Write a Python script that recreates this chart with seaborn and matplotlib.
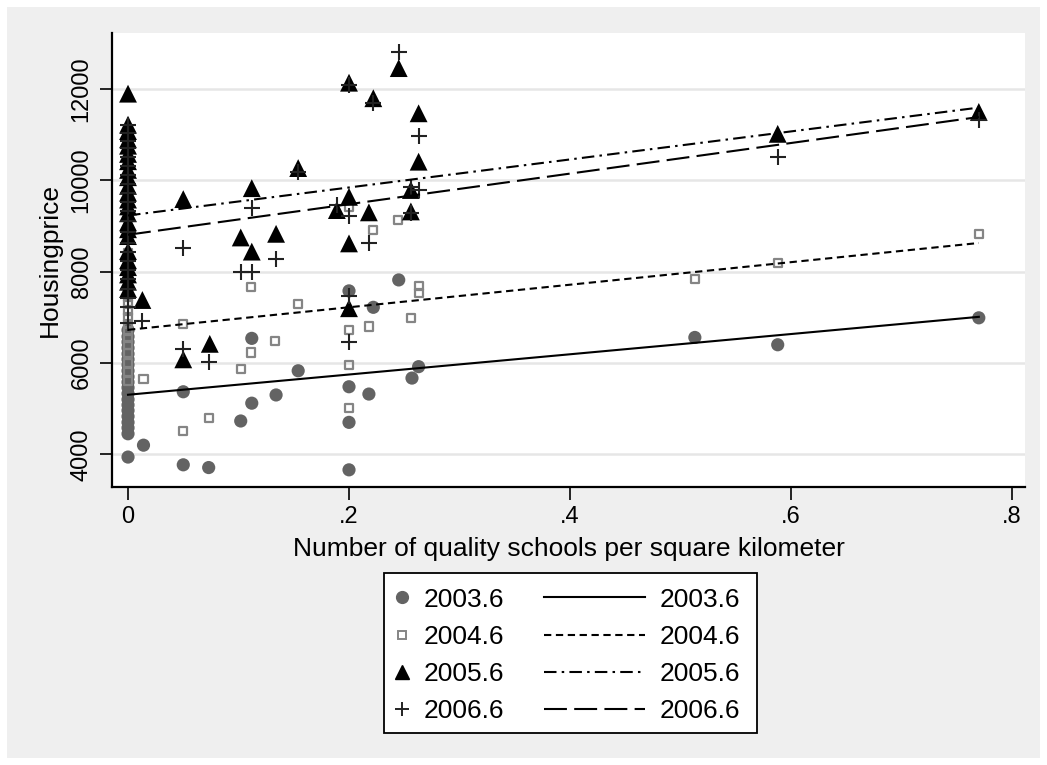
import pandas as pd
import seaborn as sns
import matplotlib.pyplot as plt
from matplotlib.patches import Rectangle
from matplotlib.lines import Line2D

years = ["2003.6", "2004.6", "2005.6", "2006.6"]

# 2003.6 (circles)
x_2003 = [0, 0, 0, 0, 0, 0, 0, 0, 0, 0, 0, 0, 0, 0, 0, 0, 0, 0, 0, 0,
          0.014, 0.050, 0.050, 0.073, 0.102, 0.112, 0.112, 0.134, 0.154, 0.200,
          0.200, 0.200, 0.200, 0.218, 0.222, 0.245, 0.257, 0.263, 0.513, 0.588, 0.770]
y_2003 = [3940, 4450, 4580, 4700, 4830, 4960, 5080, 5200, 5330, 5460,
          5580, 5700, 5830, 5960, 6080, 6200, 6330, 6460, 6580, 6720,
          4200, 5370, 3770, 3710, 4730, 6540, 5120, 5300, 5830, 7580,
          5480, 4700, 3660, 5320, 7220, 7820, 5670, 5920, 6560, 6400, 6990]

# 2004.6 (hollow squares)
x_2004 = [0, 0, 0, 0, 0, 0, 0, 0, 0, 0, 0, 0, 0, 0, 0, 0, 0, 0,
          0.014, 0.050, 0.050, 0.073, 0.102, 0.111, 0.111, 0.133, 0.154, 0.200, 0.200,
          0.200, 0.200, 0.218, 0.222, 0.244, 0.256, 0.263, 0.263, 0.513, 0.588, 0.770]
y_2004 = [5600, 5800, 6000, 6220, 6400, 6550, 6700, 6850, 7000, 7150,
          7300, 7450, 7600, 7750, 7900, 8050, 8200, 8400,
          5640, 6850, 4520, 4790, 5860, 7660, 6230, 6480, 7290, 9420, 6720,
          5960, 5010, 6800, 8910, 9130, 6990, 7690, 7530, 7840, 8200, 8830]

# 2005.6 (triangles)
x_2005 = [0, 0, 0, 0, 0, 0, 0, 0, 0, 0, 0, 0, 0, 0, 0, 0, 0, 0, 0, 0, 0, 0, 0,
          0.013, 0.050, 0.050, 0.074, 0.102, 0.112, 0.112, 0.134, 0.154, 0.189, 0.200,
          0.200, 0.200, 0.200, 0.218, 0.222, 0.245, 0.256, 0.256, 0.263, 0.263, 0.588, 0.770]
y_2005 = [7620, 7780, 7940, 8100, 8250, 8450, 8780, 8930, 9080, 9280,
          9430, 9580, 9730, 9880, 10070, 10230, 10420, 10580, 10760, 10900,
          11080, 11220, 11900,
          7380, 9590, 6080, 6420, 8750, 9830, 8440, 8830, 10270, 9350, 12140,
          9640, 8620, 7200, 9300, 11800, 12460, 9790, 9320, 11470, 10410, 11020, 11500]

# 2006.6 (plus signs)
x_2006 = [0, 0, 0, 0, 0, 0, 0, 0, 0, 0, 0, 0, 0, 0, 0, 0, 0, 0, 0, 0, 0, 0,
          0.013, 0.050, 0.050, 0.073, 0.102, 0.112, 0.112, 0.134, 0.154, 0.189, 0.200,
          0.200, 0.200, 0.200, 0.218, 0.222, 0.245, 0.256, 0.256, 0.263, 0.263, 0.588, 0.770]
y_2006 = [6870, 7220, 7430, 7630, 7830, 8030, 8230, 8430, 8630, 8870,
          9120, 9320, 9520, 9720, 9920, 10120, 10320, 10520, 10700, 10860,
          11040, 11220,
          6910, 8530, 6300, 6030, 7990, 9390, 7990, 8270, 10190, 9460, 12090,
          9210, 7470, 6470, 8630, 11690, 12820, 9860, 9280, 10980, 9790, 10510, 11320]

xs = [x_2003, x_2004, x_2005, x_2006]
ys = [y_2003, y_2004, y_2005, y_2006]

x_ticks = [0, 0.2, 0.4, 0.6, 0.8]
x_tick_labels = ["0", ".2", ".4", ".6", ".8"]
y_ticks = [4000, 6000, 8000, 10000, 12000]

# marker / line styling per year
marker_kw = [
    dict(marker="o", s=90, color="#636363", edgecolor="none"),
    dict(marker="s", s=34, facecolor="none", edgecolor="#858585", linewidth=1.6),
    dict(marker="^", s=165, color="black", edgecolor="none"),
    dict(marker="+", s=125, color="#222222", linewidth=1.5),
]
line_styles = ["-", (0, (3.5, 2.2)), (0, (6, 2.5, 1.2, 2.5)), (0, (11, 3.5))]

plt.rcParams["font.family"] = ["Liberation Sans", "DejaVu Sans"]

fig = plt.figure(figsize=(10.47, 7.65), dpi=100, facecolor="white")
fig.patches.append(Rectangle((7 / 1047, 1 - 758 / 765), 1033 / 1047, 751 / 765,
                             transform=fig.transFigure, facecolor="#efefef",
                             edgecolor="none", zorder=-2))
ax = fig.add_axes([112 / 1047, 1 - 487 / 765, 913 / 1047, 454 / 765])
ax.set_zorder(1)
ax.set_facecolor("white")

for y in y_ticks:
    ax.axhline(y, color="#e6e6e6", linewidth=1.8, zorder=0)

for i in range(4):
    df = pd.DataFrame({"x": xs[i], "y": ys[i]})
    sns.scatterplot(data=df, x="x", y="y", ax=ax, zorder=3, **marker_kw[i])

for i in range(4):
    df = pd.DataFrame({"x": xs[i], "y": ys[i]})
    sns.regplot(data=df, x="x", y="y", ax=ax, scatter=False, ci=None,
                line_kws=dict(color="black", linewidth=1.5, linestyle=line_styles[i], zorder=4))

ax.set_xlim(-0.0145, 0.8118)
ax.set_ylim(3284, 13229)
ax.set_xticks(x_ticks)
ax.set_xticklabels(x_tick_labels)
ax.set_yticks(y_ticks)
ax.set_yticklabels([str(v) for v in y_ticks], rotation=90, va="center")
ax.tick_params(axis="both", length=9, width=1.2, labelsize=17, color="black", pad=5)
for side in ["top", "right"]:
    ax.spines[side].set_visible(False)
for side in ["left", "bottom"]:
    ax.spines[side].set_linewidth(1.6)
ax.set_xlabel("Number of quality schools per square kilometer", fontsize=19, labelpad=6)
ax.set_ylabel("Housingprice", fontsize=19, labelpad=6)

# legend box and two columns
fig.patches.append(Rectangle((384 / 1047, 1 - 733 / 765), 373 / 1047, 160 / 765,
                             transform=fig.transFigure, facecolor="white",
                             edgecolor="black", linewidth=1.3, zorder=-1))
mk_handles = [
    Line2D([], [], linestyle="none", marker="o", markersize=8.5, color="#636363"),
    Line2D([], [], linestyle="none", marker="s", markersize=5.5, markerfacecolor="none",
           markeredgecolor="#858585", markeredgewidth=1.4),
    Line2D([], [], linestyle="none", marker="^", markersize=10, color="black"),
    Line2D([], [], linestyle="none", marker="+", markersize=10, color="#222222",
           markeredgewidth=1.4),
]
ln_handles = [Line2D([], [], color="black", linewidth=1.5, linestyle=ls) for ls in line_styles]

leg1 = fig.legend(mk_handles, years, loc="center left",
                  bbox_to_anchor=(389 / 1047, 1 - 655.5 / 765), frameon=False,
                  fontsize=19, handlelength=1.0, handletextpad=0.3,
                  borderpad=0, borderaxespad=0, labelspacing=0.5)
leg2 = fig.legend(ln_handles, years, loc="center left",
                  bbox_to_anchor=(544 / 1047, 1 - 655.5 / 765), frameon=False,
                  fontsize=19, handlelength=3.83, handletextpad=0.55,
                  borderpad=0, borderaxespad=0, labelspacing=0.5)
leg1.set_zorder(2)
leg2.set_zorder(2)

fig.savefig("out.png", dpi=100, facecolor="white")
